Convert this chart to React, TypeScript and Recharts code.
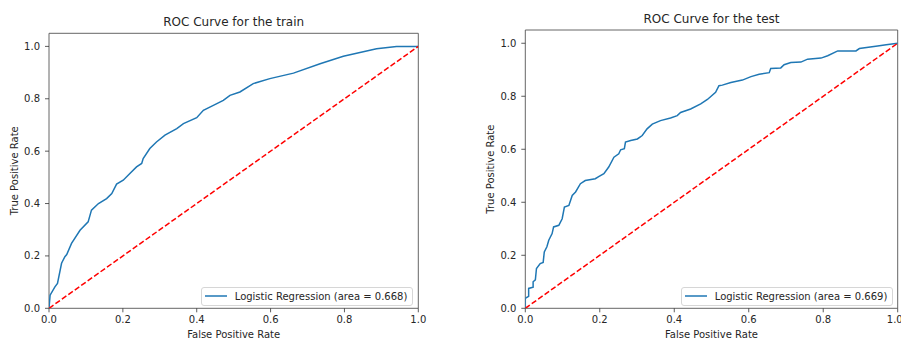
import React from 'react';
import { LineChart, Line, XAxis, YAxis, ReferenceArea, Legend } from 'recharts';

// ---- Data ----
const trainFpr = [0, 0.003, 0.016, 0.023, 0.034, 0.043, 0.048, 0.061, 0.084, 0.106, 0.115, 0.134, 0.156, 0.17, 0.183, 0.201, 0.219, 0.237, 0.251, 0.255, 0.273, 0.291, 0.314, 0.346, 0.364, 0.40, 0.418, 0.445, 0.472, 0.49, 0.517, 0.553, 0.598, 0.662, 0.734, 0.797, 0.833, 0.887, 0.941, 1.0];
const trainTpr = [0, 0.05, 0.082, 0.095, 0.172, 0.197, 0.205, 0.248, 0.298, 0.33, 0.375, 0.40, 0.419, 0.438, 0.474, 0.489, 0.515, 0.54, 0.553, 0.572, 0.61, 0.635, 0.661, 0.686, 0.705, 0.728, 0.756, 0.775, 0.794, 0.813, 0.826, 0.858, 0.877, 0.898, 0.934, 0.962, 0.974, 0.991, 1.0, 1.0];

const testFpr = [0, 0, 0.009, 0.009, 0.021, 0.021, 0.027, 0.030, 0.040, 0.048, 0.051, 0.058, 0.063, 0.072, 0.076, 0.090, 0.099, 0.105, 0.117, 0.126, 0.135, 0.148, 0.161, 0.188, 0.197, 0.211, 0.224, 0.238, 0.251, 0.256, 0.266, 0.269, 0.283, 0.301, 0.314, 0.327, 0.341, 0.363, 0.39, 0.408, 0.417, 0.444, 0.471, 0.489, 0.511, 0.52, 0.529, 0.552, 0.583, 0.606, 0.628, 0.655, 0.659, 0.686, 0.695, 0.713, 0.74, 0.758, 0.794, 0.812, 0.839, 0.888, 0.897, 0.946, 0.969, 1.0];
const testTpr = [0, 0.038, 0.045, 0.075, 0.08, 0.10, 0.107, 0.15, 0.169, 0.173, 0.213, 0.232, 0.257, 0.282, 0.307, 0.313, 0.338, 0.382, 0.388, 0.426, 0.439, 0.47, 0.482, 0.489, 0.497, 0.508, 0.533, 0.57, 0.583, 0.598, 0.602, 0.627, 0.633, 0.639, 0.652, 0.677, 0.695, 0.708, 0.718, 0.727, 0.739, 0.752, 0.771, 0.788, 0.815, 0.84, 0.842, 0.852, 0.861, 0.874, 0.883, 0.889, 0.905, 0.907, 0.919, 0.927, 0.929, 0.94, 0.944, 0.953, 0.971, 0.971, 0.98, 0.99, 0.994, 1.0];

const diagX = [0, 1];
const diagY = [0, 1];

const yTicks = [0, 0.2, 0.4, 0.6, 0.8, 1.0];
const xTicks = [0, 0.2, 0.4, 0.6, 0.8, 1.0];

const titles = ['ROC Curve for the train', 'ROC Curve for the test'];
const seriesNames = ['Logistic Regression (area = 0.668)', 'Logistic Regression (area = 0.669)'];

const FONT = '"DejaVu Sans", sans-serif';
const TEXT = '#262626';

const zip = (xs: number[], ys: number[]) => xs.map((x, i) => ({ x, y: ys[i] }));

const LegendBox = (props: any) => {
  const items = (props.payload || []).filter((p: any) => p.type !== 'none');
  return (
    <div style={{
      border: '1px solid #d6d6d6', borderRadius: 3, background: 'rgba(255,255,255,0.8)',
      padding: '0 5px 0 3px', height: 19, display: 'inline-flex', alignItems: 'center',
      fontFamily: FONT, fontSize: 10, color: TEXT, whiteSpace: 'nowrap', boxSizing: 'border-box'
    }}>
      {items.map((it: any, i: number) => (
        <span key={i} style={{ display: 'flex', alignItems: 'center' }}>
          <svg width={22} height={4} style={{ marginRight: 8 }}>
            <line x1={0} y1={2} x2={22} y2={2} stroke={it.color} strokeWidth={1.5} />
          </svg>
          <span>{it.value}</span>
        </span>
      ))}
    </div>
  );
};

type PanelProps = {
  left: number; width: number; data: { x: number; y: number }[]; title: string; name: string;
  yAxisWidth: number; marginTop: number; marginRight: number; titleTop: number; yLabelOffset: number;
  legendRight: number;
};

const Panel = (p: PanelProps) => (
  <div style={{ position: 'absolute', left: p.left, top: 0, width: p.width, height: 340 }}>
    <LineChart width={p.width} height={340} margin={{ top: p.marginTop, right: p.marginRight, bottom: 0, left: 0 }}>
      <XAxis
        dataKey="x" type="number" domain={[0, 1]} ticks={xTicks} allowDataOverflow
        tickFormatter={(v: number) => v.toFixed(1)} height={31.7}
        tickLine={{ stroke: '#333', strokeWidth: 0.8 }} tickSize={4} tickMargin={4} axisLine={false}
        tick={{ fill: TEXT, fontSize: 10, fontFamily: FONT }}
        label={{ value: 'False Positive Rate', position: 'insideBottom', offset: 2, fill: TEXT, fontSize: 10, fontFamily: FONT }}
      />
      <YAxis
        dataKey="y" type="number" domain={[0, 1.05]} ticks={yTicks} allowDataOverflow
        tickFormatter={(v: number) => v.toFixed(1)} width={p.yAxisWidth}
        tickLine={{ stroke: '#333', strokeWidth: 0.8 }} tickSize={4} tickMargin={5} axisLine={false}
        tick={{ fill: TEXT, fontSize: 10, fontFamily: FONT }}
        label={{ value: 'True Positive Rate', angle: -90, position: 'insideLeft', offset: p.yLabelOffset, fill: TEXT, fontSize: 10, fontFamily: FONT, style: { textAnchor: 'middle' } }}
      />
      <ReferenceArea x1={0} x2={1} y1={0} y2={1.05} fill="none" stroke="#555" strokeWidth={0.9} ifOverflow="visible" />
      <Line data={p.data} dataKey="y" name={p.name} type="linear" stroke="#1f77b4" strokeWidth={1.5} dot={false} isAnimationActive={false} />
      <Line data={zip(diagX, diagY)} dataKey="y" name="diag" legendType="none" type="linear" stroke="#ff0000" strokeWidth={1.5} strokeDasharray="5.5 2.4" dot={false} isAnimationActive={false} />
      <Legend
        content={<LegendBox />} layout="horizontal" align="center" verticalAlign="middle"
        wrapperStyle={{ position: 'absolute', right: p.legendRight, top: 284.3, left: 'auto', bottom: 'auto', width: 'auto', height: 'auto' }}
      />
    </LineChart>
    <div style={{
      position: 'absolute', top: p.titleTop, left: p.yAxisWidth, width: p.width - p.yAxisWidth - p.marginRight,
      textAlign: 'center', fontFamily: FONT, fontSize: 12, lineHeight: '12px', color: TEXT
    }}>{p.title}</div>
  </div>
);

export default function App() {
  return (
    <div style={{ position: 'absolute', left: 0, top: 0, width: 901, height: 340, background: '#fff', overflow: 'hidden' }}>
      <Panel left={0} width={450} data={zip(trainFpr, trainTpr)} title={titles[0]} name={seriesNames[0]}
        yAxisWidth={49} marginTop={33.3} marginRight={31.7} titleTop={16.4} yLabelOffset={14} legendRight={36.7} />
      <Panel left={450} width={451} data={zip(testFpr, testTpr)} title={titles[1]} name={seriesNames[1]}
        yAxisWidth={75.3} marginTop={30} marginRight={3.3} titleTop={13.4} yLabelOffset={40.5} legendRight={7.7} />
    </div>
  );
}
